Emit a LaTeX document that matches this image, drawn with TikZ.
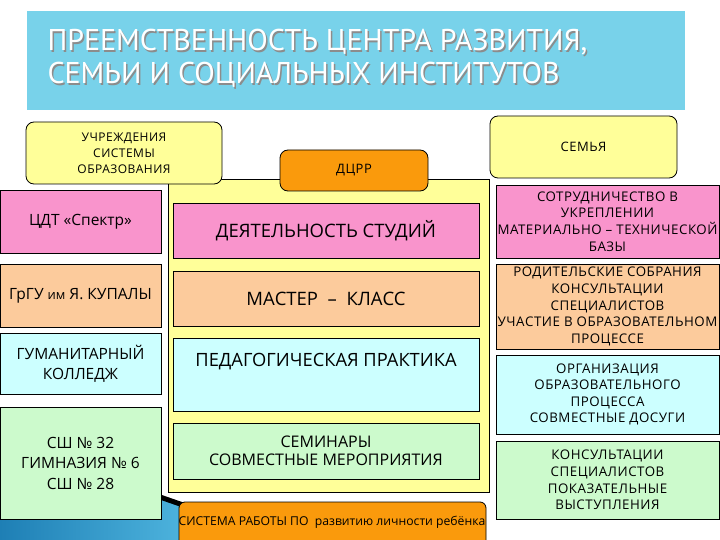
\documentclass[tikz,border=0pt]{standalone}
\usepackage{fontspec}
\setmainfont{Open Sans}
\newfontfamily\titlefont{PT Sans}
\newfontfamily\widefont[LetterSpace=4]{Open Sans}
\definecolor{titlecyan}{HTML}{78D2EA}
\definecolor{ylw}{HTML}{FFFF99}
\definecolor{pinkc}{HTML}{F994CC}
\definecolor{peach}{HTML}{FCCB9C}
\definecolor{lcyan}{HTML}{CCFFFF}
\definecolor{lgreen}{HTML}{CCFACC}
\definecolor{orng}{HTML}{FA9A0C}
\definecolor{blueA}{HTML}{1E7FB5}
\definecolor{blueB}{HTML}{4DB3DD}
\begin{document}
\begin{tikzpicture}[x=1pt,y=-1pt]
\tikzset{
  box/.style={draw=black, line width=0.8pt, inner sep=0pt, align=center, text=black},
  rbox/.style={box, rounded corners=8pt},
  fs/.style 2 args={font=\fontsize{#1}{#2}\selectfont},
  ws/.style 2 args={font=\widefont\fontsize{#1}{#2}\selectfont},
}
\useasboundingbox (0,0) rectangle (720,540);
\fill[white] (0,0) rectangle (720,540);
% blue decorative shape bottom-left
\shade[left color=blueA, right color=blueB] (0,500) -- (162,498) -- (183,505) -- (183,540) -- (0,540) -- cycle;
\draw[line width=5pt, black] (160,497) -- (183,505);
% title
\node[fill=titlecyan, minimum width=658pt, minimum height=99pt, inner sep=0pt] (title) at (356,60.5) {};
\node[anchor=north west, align=left, text=black!45, font=\titlefont\fontsize{30}{33}\selectfont] (tshadow) at (45.5,27.5) {ПРЕЕМСТВЕННОСТЬ ЦЕНТРА РАЗВИТИЯ,\\СЕМЬИ И СОЦИАЛЬНЫХ ИНСТИТУТОВ};
\node[anchor=north west, align=left, text=white, font=\titlefont\fontsize{30}{33}\selectfont] (ttext) at (44,26) {ПРЕЕМСТВЕННОСТЬ ЦЕНТРА РАЗВИТИЯ,\\СЕМЬИ И СОЦИАЛЬНЫХ ИНСТИТУТОВ};
% central yellow panel
\node[box, fill=ylw, minimum width=321pt, minimum height=313pt] (panel) at (328.5,335.5) {};
% header boxes
\node[rbox, fill=ylw, minimum width=196pt, minimum height=62pt, ws={12}{16}] (uchr) at (124,153) {УЧРЕЖДЕНИЯ\\СИСТЕМЫ\\ОБРАЗОВАНИЯ};
\node[rbox, fill=orng, minimum width=148pt, minimum height=41pt, ws={13}{16}] (dcrr) at (354,170.5) {ДЦРР};
\node[rbox, fill=ylw, minimum width=187pt, minimum height=62pt, ws={13}{16}] (semya) at (583.5,147) {СЕМЬЯ};
% left column
\node[box, fill=pinkc, minimum width=161pt, minimum height=63pt, fs={15.5}{20}] (cdt) at (80.5,221.5) {ЦДТ «Спектр»};
\node[box, fill=peach, minimum width=161pt, minimum height=63pt, fs={15.5}{20}] (grgu) at (80.5,295.5) {ГрГУ {\fontsize{13}{15}\selectfont им} Я. КУПАЛЫ};
\node[box, fill=lcyan, minimum width=161pt, minimum height=61pt, fs={15.5}{20}] (gum) at (80.5,363.5) {ГУМАНИТАРНЫЙ\\КОЛЛЕДЖ};
\node[box, fill=lgreen, minimum width=161pt, minimum height=112pt, fs={15.5}{20.5}] (sch) at (80.5,463) {СШ № 32\\ГИМНАЗИЯ № 6\\СШ № 28};
% center column
\node[box, fill=pinkc, minimum width=306pt, minimum height=55pt, fs={18.5}{22}] (deyat) at (326,230.5) {ДЕЯТЕЛЬНОСТЬ СТУДИЙ};
\node[box, fill=peach, minimum width=306pt, minimum height=55pt, fs={18.5}{22}] (master) at (326,298.5) {МАСТЕР\ \ –\ \ КЛАСС};
\node[box, fill=lcyan, minimum width=306pt, minimum height=73pt] (ped) at (326,374.5) {};
\node[fs={18.3}{22}, text=black] (pedt) at (326,362) {ПЕДАГОГИЧЕСКАЯ ПРАКТИКА};
\node[box, fill=lgreen, minimum width=306pt, minimum height=56pt, fs={16}{18.5}] (semin) at (326,451) {СЕМИНАРЫ\\СОВМЕСТНЫЕ МЕРОПРИЯТИЯ};
% right column
\node[box, fill=pinkc, minimum width=223pt, minimum height=73pt, ws={13.3}{16.6}] (sotr) at (607.5,221.5) {СОТРУДНИЧЕСТВО В\\УКРЕПЛЕНИИ\\МАТЕРИАЛЬНО – ТЕХНИЧЕСКОЙ\\БАЗЫ};
\node[box, fill=peach, minimum width=223pt, minimum height=85pt, ws={13.3}{16.6}] (rodit) at (607.5,306.5) {РОДИТЕЛЬСКИЕ СОБРАНИЯ\\КОНСУЛЬТАЦИИ\\СПЕЦИАЛИСТОВ\\УЧАСТИЕ В ОБРАЗОВАТЕЛЬНОМ\\ПРОЦЕССЕ};
\node[box, fill=lcyan, minimum width=223pt, minimum height=79pt, ws={13.3}{16.6}] (org) at (607.5,394.5) {ОРГАНИЗАЦИЯ\\ОБРАЗОВАТЕЛЬНОГО\\ПРОЦЕССА\\СОВМЕСТНЫЕ ДОСУГИ};
\node[box, fill=lgreen, minimum width=223pt, minimum height=78pt, ws={13.3}{16.6}] (kons) at (607.5,480) {КОНСУЛЬТАЦИИ\\СПЕЦИАЛИСТОВ\\ПОКАЗАТЕЛЬНЫЕ\\ВЫСТУПЛЕНИЯ};
% bottom orange box
\draw[fill=orng, line width=0.8pt, rounded corners=6pt] (179,545) -- (179,502) -- (486,502) -- (486,545);
\node[fs={12.2}{14}, text=black, inner sep=0pt] (sys) at (332,522) {СИСТЕМА РАБОТЫ ПО\ \ развитию личности ребёнка};
\end{tikzpicture}
\end{document}
